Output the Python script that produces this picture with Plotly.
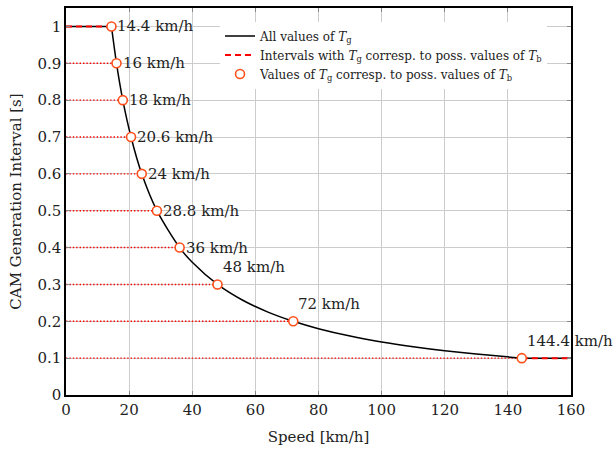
import plotly.graph_objects as go

# Beacon speed thresholds (km/h) and the matching CAM generation intervals (s)
point_speed = [14.4, 16, 18, 20.6, 24, 28.8, 36, 48, 72, 144.4]
point_interval = [1.0, 0.9, 0.8, 0.7, 0.6, 0.5, 0.4, 0.3, 0.2, 0.1]
point_labels = ["14.4 km/h", "16 km/h", "18 km/h", "20.6 km/h", "24 km/h",
                "28.8 km/h", "36 km/h", "48 km/h", "72 km/h", "144.4 km/h"]

# Continuous generation interval curve
flat_low_speed = [0, 14.4]
flat_low_interval = [1.0, 1.0]
curve_speed = [14.4, 16, 18, 20.6, 24, 28.8, 36, 40, 48, 56, 64, 72, 80, 90,
               100, 110, 120, 130, 144.4]
curve_interval = [1.0, 0.9, 0.8, 0.7, 0.6, 0.5, 0.4, 0.36, 0.3, 0.257, 0.225,
                  0.2, 0.18, 0.16, 0.144, 0.131, 0.12, 0.111, 0.1]
flat_high_speed = [144.4, 160]
flat_high_interval = [0.1, 0.1]

x_ticks = [0, 20, 40, 60, 80, 100, 120, 140, 160]
y_ticks = [0, 0.1, 0.2, 0.3, 0.4, 0.5, 0.6, 0.7, 0.8, 0.9, 1]

RED = "#ff0000"
ORANGE = "#ff4f1a"
FONT = "DejaVu Serif, serif"
TXT = "#222222"

fig = go.Figure()

# dotted guides from the y axis to each point
for i, (sx, ty) in enumerate(zip(point_speed, point_interval)):
    if i == 0:
        continue
    fig.add_trace(go.Scatter(x=[0, sx], y=[ty, ty], mode="lines",
                             line=dict(color=RED, width=1.4, dash="1.4px,2px"),
                             showlegend=False, hoverinfo="skip"))

# black curve: all values of T_g
fig.add_trace(go.Scatter(x=flat_low_speed, y=flat_low_interval, mode="lines",
                         line=dict(color="black", width=1.5),
                         name="All values of <i>T</i><sub>g</sub>"))
fig.add_trace(go.Scatter(x=curve_speed, y=curve_interval, mode="lines",
                         line=dict(color="black", width=1.5, shape="spline", smoothing=0.8),
                         showlegend=False))
fig.add_trace(go.Scatter(x=flat_high_speed, y=flat_high_interval, mode="lines",
                         line=dict(color="black", width=1.5), showlegend=False))

# dashed intervals
fig.add_trace(go.Scatter(x=flat_low_speed, y=flat_low_interval, mode="lines",
                         line=dict(color=RED, width=2, dash="6px,4px"),
                         name="Intervals with <i>T</i><sub>g</sub> corresp. to poss. values of <i>T</i><sub>b</sub>"))
fig.add_trace(go.Scatter(x=flat_high_speed, y=flat_high_interval, mode="lines",
                         line=dict(color=RED, width=2, dash="6px,4px"),
                         showlegend=False))

# marker points
fig.add_trace(go.Scatter(x=point_speed, y=point_interval, mode="markers",
                         marker=dict(symbol="circle", size=9, color="white",
                                     line=dict(color=ORANGE, width=1.6)),
                         name="Values of <i>T</i><sub>g</sub> corresp. to poss. values of <i>T</i><sub>b</sub>"))

# speed labels
for i, (sx, ty, lab) in enumerate(zip(point_speed, point_interval, point_labels)):
    if i < 7:
        fig.add_annotation(x=sx, y=ty, text=lab, showarrow=False,
                           xanchor="left", yanchor="middle", xshift=4,
                           font=dict(family=FONT, size=15, color=TXT))
    else:
        fig.add_annotation(x=sx, y=ty, text=lab, showarrow=False,
                           xanchor="left", yanchor="bottom", xshift=3, yshift=6,
                           font=dict(family=FONT, size=15, color=TXT))

axis_common = dict(showline=True, linecolor="black", linewidth=1.5, mirror="ticks",
                   ticks="inside", ticklen=4, tickcolor="#888", showgrid=True,
                   gridcolor="#cccccc", gridwidth=1, zeroline=False,
                   tickfont=dict(family=FONT, size=15, color=TXT))

fig.update_xaxes(range=[0, 160], tickvals=x_ticks,
                 title=dict(text="Speed [km/h]", font=dict(family=FONT, size=15, color=TXT),
                            standoff=14),
                 **axis_common)
fig.update_yaxes(range=[0, 1.05], tickvals=y_ticks, ticktext=[str(v) for v in y_ticks],
                 title=dict(text="CAM Generation Interval [s]",
                            font=dict(family=FONT, size=15, color=TXT), standoff=12),
                 **axis_common)

fig.update_layout(
    width=613, height=449,
    margin=dict(l=66, r=42, t=6, b=54),
    plot_bgcolor="white", paper_bgcolor="white",
    font=dict(family=FONT, size=12, color=TXT),
    legend=dict(x=0.305, y=0.965, xanchor="left", yanchor="top",
                bgcolor="white", borderwidth=0,
                font=dict(family=FONT, size=12, color=TXT),
                tracegroupgap=0, itemwidth=30),
)

fig.write_html("out.html")
